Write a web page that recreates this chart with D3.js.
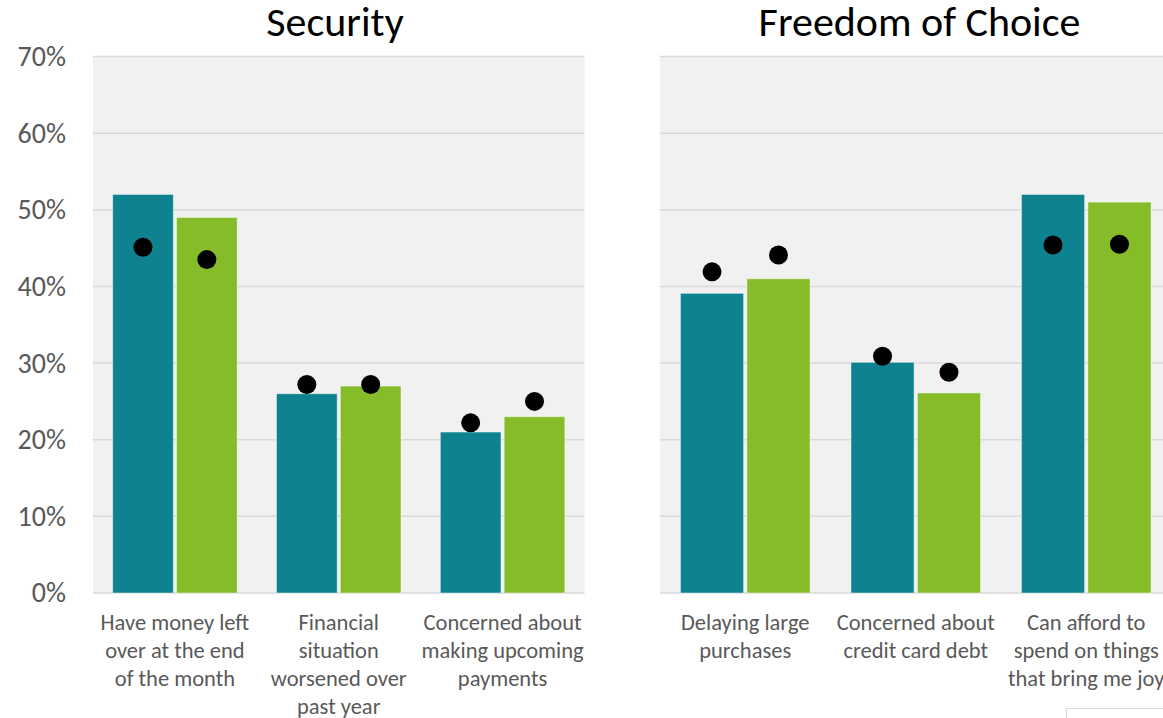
<!DOCTYPE html>
<html>
<head>
<meta charset="utf-8">
<script src="https://cdn.jsdelivr.net/npm/d3@7"></script>
<style>
  html, body { margin: 0; padding: 0; background: #ffffff; }
  svg { display: block; font-family: Calibri, Carlito, "Open Sans", "Noto Sans", sans-serif; }
</style>
</head>
<body>
<svg id="chart" width="1163" height="718"></svg>
<script>
// ---- data ----
const panelTitles = ["Security", "Freedom of Choice"];
const securityCategories = [
  ["Have money left", "over at the end", "of the month"],
  ["Financial", "situation", "worsened over", "past year"],
  ["Concerned about", "making upcoming", "payments"]
];
const freedomCategories = [
  ["Delaying large", "purchases"],
  ["Concerned about", "credit card debt"],
  ["Can afford to", "spend on things", "that bring me joy"]
];
const seriesNames = ["Series A", "Series B"];
const securityBarsA = [52, 26, 21];
const securityBarsB = [49, 27, 23];
const securityDotsA = [45.1, 27.2, 22.2];
const securityDotsB = [43.5, 27.2, 25.0];
const freedomBarsA = [39.1, 30.1, 52];
const freedomBarsB = [41, 26.1, 51];
const freedomDotsA = [41.9, 30.9, 45.4];
const freedomDotsB = [44.1, 28.8, 45.5];
const yTicks = [0, 10, 20, 30, 40, 50, 60, 70];

// ---- layout ----
const svg = d3.select("#chart");
const colors = ["#0e838f", "#86bc29"];
const yTop = 56.5, yBottom = 593;
const y = d3.scaleLinear().domain([0, 70]).range([yBottom, yTop]);

const panels = [
  { title: panelTitles[0], cats: securityCategories, bars: [securityBarsA, securityBarsB], dots: [securityDotsA, securityDotsB], x0: 93, x1: 584.5, titleX: 335, showAxis: true },
  { title: panelTitles[1], cats: freedomCategories, bars: [freedomBarsA, freedomBarsB], dots: [freedomDotsA, freedomDotsB], x0: 660, x1: 1171.5, titleX: 919.5, showAxis: false }
];

panels.forEach(p => {
  const g = svg.append("g");
  // background
  g.append("rect").attr("x", p.x0).attr("y", yTop).attr("width", p.x1 - p.x0).attr("height", yBottom - yTop).attr("fill", "#f1f1f1");
  // gridlines
  g.selectAll("line.grid").data(yTicks).join("line")
    .attr("x1", p.x0).attr("x2", p.x1)
    .attr("y1", d => y(d)).attr("y2", d => y(d))
    .attr("stroke", "#d9d9d9").attr("stroke-width", 1.5);

  const x = d3.scaleBand().domain(d3.range(p.cats.length)).range([p.x0, p.x1]);
  const inner = d3.scaleBand().domain([0, 1]).range([0, x.bandwidth() * 0.76]).paddingInner(0.05);
  const off = x.bandwidth() * 0.12;

  p.bars.forEach((vals, si) => {
    g.selectAll(null).data(vals).join("rect")
      .attr("x", (d, i) => x(i) + off + inner(si))
      .attr("y", d => y(d))
      .attr("width", inner.bandwidth())
      .attr("height", d => yBottom - y(d))
      .attr("fill", colors[si])
      .attr("stroke", "rgba(255,255,255,0.45)")
      .attr("stroke-width", 1);
  });
  p.dots.forEach((vals, si) => {
    g.selectAll(null).data(vals).join("circle")
      .attr("cx", (d, i) => x(i) + off + inner(si) + inner.bandwidth() / 2)
      .attr("cy", d => y(d))
      .attr("r", 9.5)
      .attr("fill", "#000000");
  });

  // category labels
  p.cats.forEach((lines, i) => {
    const t = g.append("text")
      .attr("x", x(i) + x.bandwidth() / 2)
      .attr("y", 630)
      .attr("text-anchor", "middle")
      .attr("fill", "#595959")
      .attr("font-size", 22.5);
    lines.forEach((ln, li) => {
      t.append("tspan").attr("x", x(i) + x.bandwidth() / 2).attr("dy", li === 0 ? 0 : 28).text(ln);
    });
  });

  // title
  g.append("text").attr("x", p.titleX).attr("y", 36).attr("text-anchor", "middle")
    .attr("fill", "#000000").attr("font-size", 42).text(p.title);

  if (p.showAxis) {
    const ax = d3.axisLeft(y).tickValues(yTicks).tickFormat(d => d + "%").tickSize(0).tickPadding(0);
    const axg = svg.append("g").attr("transform", "translate(66,0)").call(ax);
    axg.select(".domain").remove();
    axg.selectAll("text").attr("fill", "#595959").attr("font-size", 28)
      .attr("font-family", "Calibri, Carlito, 'Open Sans', 'Noto Sans', sans-serif");
  }
});

// partially visible box at bottom right
svg.append("rect").attr("x", 1066.5).attr("y", 708.5).attr("width", 120).attr("height", 40)
  .attr("fill", "#ffffff").attr("stroke", "#d9d9d9").attr("stroke-width", 1);
</script>
</body>
</html>
